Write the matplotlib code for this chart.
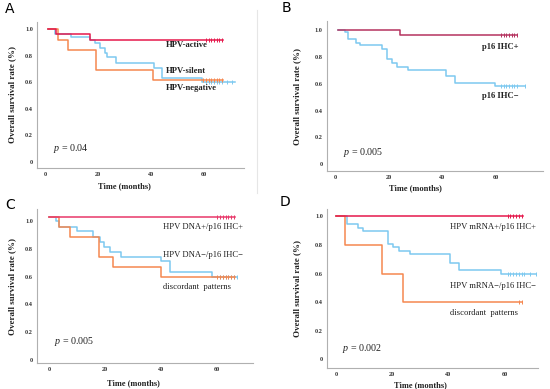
import numpy as np
import matplotlib.pyplot as plt
from matplotlib.lines import Line2D

plt.rcParams['font.family'] = 'Liberation Serif'
plt.rcParams['mathtext.fontset'] = 'custom'
plt.rcParams['mathtext.it'] = 'Liberation Serif:italic'
plt.rcParams['mathtext.rm'] = 'Liberation Serif'

# ---- panel A : HPV status ----
A_act_t = [1, 4, 17]
A_act_s = [1.0, 0.962, 0.923]
A_act_end = 67.5
A_act_cens = [61, 62, 63, 64, 65, 66, 67]

A_sil_t = [1, 3.7, 10, 17, 19, 21, 22.7, 23.6, 26.8, 41.4, 44.3, 59.5]
A_sil_s = [1.0, 0.962, 0.94, 0.92, 0.897, 0.862, 0.82, 0.79, 0.744, 0.706, 0.636, 0.605]
A_sil_end = 72
A_sil_cens = [61, 62, 63, 64, 65, 66, 67, 69, 71]

A_neg_t = [1, 4.8, 8.8, 19.2, 41.1]
A_neg_s = [1.0, 0.923, 0.846, 0.692, 0.615]
A_neg_end = 67.5
A_neg_cens = [60, 61, 62, 63, 64, 65, 66, 67]

# ---- panel B : p16 IHC ----
B_pos_t = [1, 24.3]
B_pos_s = [1.0, 0.96]
B_pos_end = 68
B_pos_cens = [62, 63, 64, 65, 66, 67, 68]

B_neg_t = [1, 3.8, 4.7, 7.8, 9.3, 17.5, 19.3, 21.2, 23.3, 27.3, 41.5, 44.7, 59.8]
B_neg_s = [1.0, 0.985, 0.928, 0.904, 0.886, 0.86, 0.78, 0.753, 0.726, 0.704, 0.657, 0.607, 0.583]
B_neg_end = 71
B_neg_cens = [62, 63, 64, 65, 66, 67, 68, 71]

# ---- panel C : HPV DNA / p16 ----
C_pos_t = [0]
C_pos_s = [1.026]
C_pos_end = 66.3
C_pos_cens = [60, 61, 62, 63, 64, 65, 66]

C_neg_t = [0, 2.4, 3.6, 9.8, 15.7, 18.1, 19.5, 21.7, 25.8, 39.9, 43.1, 58]
C_neg_s = [1.026, 1.0, 0.957, 0.924, 0.886, 0.85, 0.814, 0.778, 0.742, 0.71, 0.633, 0.6]
C_neg_end = 67
C_neg_cens = [61, 62, 63, 64, 65, 66, 67]

C_dis_t = [0, 3.6, 7.6, 17.9, 22.9, 39.9]
C_dis_s = [1.026, 0.957, 0.885, 0.74, 0.67, 0.6]
C_dis_end = 66.3
C_dis_cens = [60, 61, 62, 63, 64, 65, 66]

# ---- panel D : HPV mRNA / p16 ----
D_pos_t = [0]
D_pos_s = [1.0]
D_pos_end = 66.5
D_pos_cens = [61, 62, 63, 64, 65, 66]

D_neg_t = [0, 4.1, 7.9, 9.7, 18.6, 20.4, 22.4, 26.3, 40.5, 43.7, 58.8]
D_neg_s = [1.0, 0.946, 0.918, 0.897, 0.808, 0.785, 0.759, 0.735, 0.672, 0.625, 0.597]
D_neg_end = 71.2
D_neg_cens = [61, 62, 63, 64, 65, 66, 67, 69, 71]

D_dis_t = [0, 3.2, 16.2, 23.7]
D_dis_s = [1.0, 0.8, 0.6, 0.4]
D_dis_end = 66
D_dis_cens = [65, 66]

red = '#e5194c'
red_b = '#b5335f'
red_c = '#e8386a'
blue = '#7dc9f0'
orange = '#f5874f'
txt = '#222222'


def km(ax, t, s, end, cens, color):
    x = list(t) + [end]
    y = list(s) + [s[-1]]
    ax.step(x, y, where='post', color=color, lw=1.1)
    idx = np.searchsorted(t, cens, side='right') - 1
    ax.plot(cens, np.array(s)[idx], ls='none', marker='|', ms=3, mew=0.7, color=color)


def setup(ax, xlim, ylim, ylab_x, xlab_y):
    ax.set_xlim(xlim)
    ax.set_ylim(ylim)
    ax.set_xticks([0, 20, 40, 60])
    ax.set_yticks([0, 0.2, 0.4, 0.6, 0.8, 1.0])
    ax.set_yticklabels(['0', '0.2', '0.4', '0.6', '0.8', '1.0'])
    for sp in ['top', 'right']:
        ax.spines[sp].set_visible(False)
    for sp in ['left', 'bottom']:
        ax.spines[sp].set_color('#b0b0b0')
        ax.spines[sp].set_linewidth(0.8)
    ax.tick_params(length=0, labelsize=4.5, pad=3, labelcolor='#333333')
    for lab in ax.get_xticklabels() + ax.get_yticklabels():
        lab.set_fontweight('bold')
    ax.set_ylabel('Overall survival rate (%)', fontsize=6.5, fontweight='bold', color=txt)
    ax.set_xlabel('Time (months)', fontsize=6, fontweight='bold', color=txt)
    ax.yaxis.set_label_coords(ylab_x, 0.5)
    # xlabel sits under the middle of 0..60
    xc = (30 - xlim[0]) / (xlim[1] - xlim[0])
    ax.xaxis.set_label_coords(xc, xlab_y)


fig = plt.figure(figsize=(5.5, 3.89), dpi=100)
axA = fig.add_axes([0.0678, 0.568, 0.375, 0.376])
axB = fig.add_axes([0.594, 0.560, 0.393, 0.386])
axC = fig.add_axes([0.0678, 0.066, 0.392, 0.397])
axD = fig.add_axes([0.595, 0.054, 0.383, 0.410])

# A
setup(axA, (-2.9, 75.2), (-0.048, 1.057), -0.10, -0.096)
km(axA, A_sil_t, A_sil_s, A_sil_end, A_sil_cens, blue)
km(axA, A_neg_t, A_neg_s, A_neg_end, A_neg_cens, orange)
km(axA, A_act_t, A_act_s, A_act_end, A_act_cens, red)
axA.text(45.6, 0.88, 'HPV-active', fontsize=6.2, fontweight='bold', va='center', color=txt)
axA.text(45.6, 0.687, 'HPV-silent', fontsize=6.2, fontweight='bold', va='center', color=txt)
axA.text(45.6, 0.554, 'HPV-negative', fontsize=6.2, fontweight='bold', va='center', color=txt)
axA.text(3.2, 0.096, '$p$ = 0.04', fontsize=7.2, va='center', color=txt)

# B
setup(axB, (-3.1, 77.6), (-0.05, 1.064), -0.117, -0.085)
km(axB, B_neg_t, B_neg_s, B_neg_end, B_neg_cens, blue)
km(axB, B_pos_t, B_pos_s, B_pos_end, B_pos_cens, red_b)
axB.text(54.7, 0.873, 'p16 IHC+', fontsize=6.2, fontweight='bold', va='center', color=txt)
axB.text(54.7, 0.507, 'p16 IHC\u2212', fontsize=6.2, fontweight='bold', va='center', color=txt)
axB.text(2.8, 0.09, '$p$ = 0.005', fontsize=7.2, va='center', color=txt)

# C
setup(axC, (-4.2, 72.7), (-0.021, 1.084), -0.098, -0.105)
km(axC, C_neg_t, C_neg_s, C_neg_end, C_neg_cens, blue)
km(axC, C_dis_t, C_dis_s, C_dis_end, C_dis_cens, orange)
km(axC, C_pos_t, C_pos_s, C_pos_end, C_pos_cens, red_c)
axC.text(40.6, 0.952, 'HPV DNA+/p16 IHC+', fontsize=6.2, va='center', color=txt)
axC.text(40.6, 0.754, 'HPV DNA\u2212/p16 IHC\u2212', fontsize=6.2, va='center', color=txt)
axC.text(40.6, 0.523, 'discordant  patterns', fontsize=6.2, va='center', color=txt)
axC.text(1.9, 0.134, '$p$ = 0.005', fontsize=7.2, va='center', color=txt)

# D
setup(axD, (-3.1, 71.8), (-0.06, 1.054), -0.124, -0.085)
km(axD, D_neg_t, D_neg_s, D_neg_end, D_neg_cens, blue)
km(axD, D_dis_t, D_dis_s, D_dis_end, D_dis_cens, orange)
km(axD, D_pos_t, D_pos_s, D_pos_end, D_pos_cens, red)
axD.text(40.7, 0.923, 'HPV mRNA+/p16 IHC+', fontsize=6.2, va='center', color=txt)
axD.text(40.7, 0.513, 'HPV mRNA\u2212/p16 IHC\u2212', fontsize=6.2, va='center', color=txt)
axD.text(40.7, 0.326, 'discordant  patterns', fontsize=6.2, va='center', color=txt)
axD.text(2.0, 0.075, '$p$ = 0.002', fontsize=7.2, va='center', color=txt)

# panel letters
for lx, ly, letter in [(5, 9, 'A'), (282, 8, 'B'), (5, 205, 'C'), (280, 202, 'D')]:
    fig.text(lx / 550, 1 - ly / 389, letter, fontsize=10, family='DejaVu Sans', va='center')

# thin divider between A and B
fig.add_artist(Line2D([257 / 550, 257 / 550], [1 - 10 / 389, 1 - 193 / 389],
                      color='#e6e6e6', lw=0.8))

fig.savefig('out.png', dpi=100)
